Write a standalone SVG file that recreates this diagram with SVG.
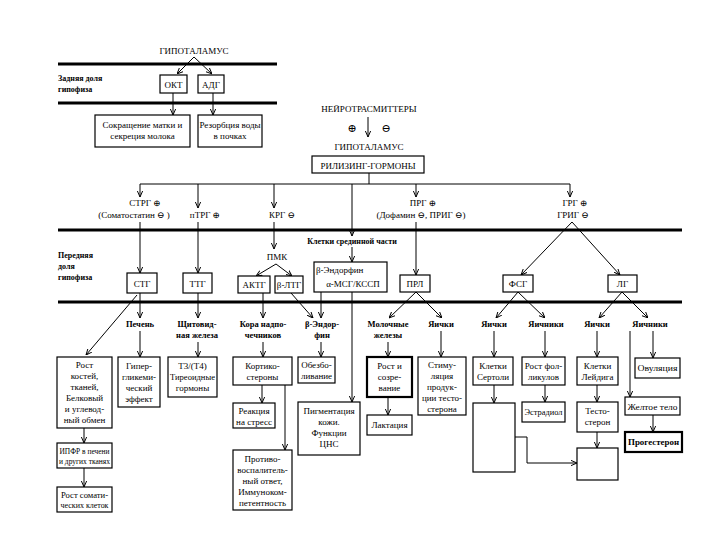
<svg xmlns="http://www.w3.org/2000/svg" width="720" height="540" viewBox="0 0 720 540">
<style>
text{font-family:"Liberation Serif","DejaVu Serif",serif;font-size:9px;fill:#000;text-anchor:middle}
.b{font-weight:bold;font-size:8.5px}
.l{text-anchor:start}
.sm{font-size:8px;font-weight:bold}
.box{fill:#fff;stroke:#000;stroke-width:1.2}
.bx2{fill:#fff;stroke:#000;stroke-width:2.2}
.sec{stroke:#000;stroke-width:3.2;fill:none}
.c{stroke:#000;stroke-width:1;fill:none}
.a{stroke:#000;stroke-width:1;fill:none;marker-end:url(#ah)}
</style>
<defs>
<marker id="ah" viewBox="0 0 8 8" refX="8" refY="4" markerWidth="6" markerHeight="6" orient="auto" markerUnits="userSpaceOnUse"><path d="M0,0.5 L8,4 L0,7.5" fill="none" stroke="#000" stroke-width="1.3"/></marker>
</defs>
<rect width="720" height="540" fill="#fff"/>

<g id="sections">
<line class="sec" x1="58" y1="64" x2="277" y2="64"/>
<line class="sec" x1="58" y1="103" x2="277" y2="103"/>
<line class="sec" x1="58" y1="230" x2="682" y2="230"/>
<line class="sec" x1="58" y1="302" x2="682" y2="302"/>
<text class="sm l" x="58" y="81">Задняя доля</text>
<text class="sm l" x="58" y="92">гипофиза</text>
<text class="sm l" x="58" y="258">Передняя</text>
<text class="sm l" x="58" y="269">доля</text>
<text class="sm l" x="58" y="280">гипофиза</text>
</g>

<g id="connectors">
<path class="a" d="M194,57 L177,74"/>
<path class="a" d="M194,57 L212,74"/>
<path class="a" d="M173,93 L173,115"/>
<path class="a" d="M213,93 L213,115"/>
<path class="a" d="M368,117 L368,137"/>
<path class="c" d="M369,173 L369,184 M140,184 L570,184"/>
<path class="a" d="M140,184 L140,197"/>
<path class="a" d="M198,184 L198,208"/>
<path class="a" d="M274,184 L274,208"/>
<path class="a" d="M416,184 L416,197"/>
<path class="a" d="M570,184 L570,197"/>
<path class="a" d="M352,184 L352,236"/>
<path class="a" d="M352,247 L352,262"/>
<path class="a" d="M140,222 L140,273"/>
<path class="a" d="M198,222 L198,273"/>
<path class="a" d="M274,222 L274,249"/>
<path class="a" d="M276,264 L256,276"/>
<path class="a" d="M276,264 L292,276"/>
<path class="a" d="M416,222 L416,275"/>
<path class="a" d="M572,222 L521,275"/>
<path class="a" d="M572,222 L620,275"/>
<path class="a" d="M140,293 L140,318"/>
<path class="a" d="M137,295 L86,355"/>
<path class="a" d="M140,331 L140,357"/>
<path class="a" d="M198,293 L198,318"/>
<path class="a" d="M198,342 L198,357"/>
<path class="a" d="M263,293 L263,318"/>
<path class="a" d="M263,342 L263,357"/>
<path class="a" d="M262,385 L262,403"/>
<path class="a" d="M285,385 L285,450"/>
<path class="a" d="M291,293 L313,318"/>
<path class="a" d="M321,277 L321,318"/>
<path class="a" d="M321,342 L321,357"/>
<path class="a" d="M352,292 L352,402"/>
<path class="a" d="M416,292 L389,318"/>
<path class="a" d="M416,292 L442,318"/>
<path class="a" d="M388,342 L388,357"/>
<path class="a" d="M388,397 L388,415"/>
<path class="a" d="M441,331 L441,357"/>
<path class="a" d="M518,292 L496,318"/>
<path class="a" d="M518,292 L545,318"/>
<path class="a" d="M494,331 L494,357"/>
<path class="a" d="M494,385 L494,403"/>
<path class="a" d="M545,331 L545,357"/>
<path class="a" d="M545,385 L545,402"/>
<path class="a" d="M622,292 L599,318"/>
<path class="a" d="M622,292 L648,318"/>
<path class="a" d="M597,331 L597,357"/>
<path class="a" d="M597,385 L597,402"/>
<path class="a" d="M597,432 L597,448"/>
<path class="a" d="M515,437 L527,437 L527,463 L577,463"/>
<path class="a" d="M653,331 L653,358"/>
<path class="a" d="M630,331 L630,397"/>
<path class="a" d="M653,415 L653,432"/>
<path class="a" d="M84,428 L84,443"/>
<path class="a" d="M84,468 L84,487"/>
</g>

<g id="hyp1"><text x="194" y="54">ГИПОТАЛАМУС</text></g>
<g id="okt"><rect class="box" x="160" y="75" width="27" height="18"/><text x="173.5" y="87.5">ОКТ</text></g>
<g id="adg"><rect class="box" x="198" y="75" width="26" height="18"/><text x="211" y="87.5">АДГ</text></g>
<g id="sokr"><rect class="box" x="95" y="115" width="95" height="32"/><text x="142.5" y="128">Сокращение матки и</text><text x="142.5" y="139">секреция молока</text></g>
<g id="rezorb"><rect class="box" x="198" y="115" width="64" height="32"/><text x="230" y="128">Резорбция воды</text><text x="230" y="139">в почках</text></g>

<g id="neuro"><text x="369" y="112">НЕЙРОТРАСМИТТЕРЫ</text><text x="352" y="132" style="font-size:11px">⊕</text><text x="386" y="132" style="font-size:11px">⊖</text></g>
<g id="hyp2"><text x="369" y="150">ГИПОТАЛАМУС</text></g>
<g id="rg"><rect class="box" x="312" y="156" width="112" height="17"/><text x="368" y="168.5">РИЛИЗИНГ-ГОРМОНЫ</text></g>

<g id="strg"><text x="145" y="206">СТРГ ⊕</text><text x="134" y="218">(Соматостатин ⊖ )</text></g>
<g id="ptrg"><text x="205" y="218">пТРГ ⊕</text></g>
<g id="krg"><text x="282" y="218">КРГ ⊖</text></g>
<g id="prg"><text x="423" y="206">ПРГ ⊕</text><text x="421" y="218">(Дофамин ⊖, ПРИГ ⊖)</text></g>
<g id="grg"><text x="575" y="206">ГРГ ⊕</text><text x="573" y="218">ГРИГ ⊖</text></g>
<g id="mid"><text class="sm" x="352" y="244">Клетки срединной части</text></g>

<g id="stg"><rect class="box" x="127" y="273" width="30" height="20"/><text x="142" y="286.5">СТГ</text></g>
<g id="ttg"><rect class="box" x="183" y="273" width="29" height="20"/><text x="197.5" y="286.5">ТТГ</text></g>
<g id="pmk"><text x="277" y="260">ПМК</text></g>
<g id="aktg"><rect class="box" x="238" y="276" width="32" height="17"/><text x="254" y="288">АКТГ</text></g>
<g id="bltg"><rect class="box" x="275" y="276" width="28" height="17"/><text x="289" y="288">β-ЛТГ</text></g>
<g id="bend"><rect class="box" x="314" y="262" width="73" height="30"/><text class="l" x="316" y="273">β-Эндорфин</text><text x="353" y="287">α-МСГ/КССП</text></g>
<g id="prl"><rect class="box" x="400" y="275" width="30" height="17"/><text x="415" y="287">ПРЛ</text></g>
<g id="fsg"><rect class="box" x="503" y="275" width="30" height="17"/><text x="518" y="287">ФСГ</text></g>
<g id="lg"><rect class="box" x="608" y="275" width="29" height="17"/><text x="622.5" y="287">ЛГ</text></g>

<g id="liver"><text class="b" x="140" y="327">Печень</text></g>
<g id="thyr"><text class="b" x="197" y="327">Щитовид-</text><text class="b" x="197" y="338">ная железа</text></g>
<g id="adren"><text class="b" x="263" y="327">Кора надпо-</text><text class="b" x="263" y="338">чечников</text></g>
<g id="bend2"><text class="b" x="322" y="327">β-Эндор-</text><text class="b" x="322" y="338">фин</text></g>
<g id="mamm"><text class="b" x="388" y="327">Молочные</text><text class="b" x="388" y="338">железы</text></g>
<g id="test1"><text class="b" x="441" y="327">Яички</text></g>
<g id="test2"><text class="b" x="494" y="327">Яички</text></g>
<g id="ovar1"><text class="b" x="546" y="327">Яичники</text></g>
<g id="test3"><text class="b" x="597" y="327">Яички</text></g>
<g id="ovar2"><text class="b" x="650" y="327">Яичники</text></g>

<g id="growth"><rect class="box" x="57" y="357" width="55" height="71"/><text x="84.5" y="368">Рост</text><text x="84.5" y="379">костей,</text><text x="84.5" y="390">тканей,</text><text x="84.5" y="401">Белковый</text><text x="84.5" y="412">и углевод-</text><text x="84.5" y="423">ный обмен</text></g>
<g id="ipfr"><rect class="box" x="57" y="443" width="55" height="25"/><text x="84.5" y="453.5" textLength="50" lengthAdjust="spacingAndGlyphs">ИПФР в печени</text><text x="84.5" y="464" textLength="51" lengthAdjust="spacingAndGlyphs">и других тканях</text></g>
<g id="soma"><rect class="box" x="57" y="487" width="55" height="25"/><text x="84.5" y="497.5" textLength="47" lengthAdjust="spacingAndGlyphs">Рост сомати-</text><text x="84.5" y="508" textLength="48" lengthAdjust="spacingAndGlyphs">ческих клеток</text></g>
<g id="hyper"><rect class="box" x="118" y="357" width="42" height="50"/><text x="139" y="369">Гипер-</text><text x="139" y="380">гликеми-</text><text x="139" y="391">ческий</text><text x="139" y="402">эффект</text></g>
<g id="t3"><rect class="box" x="168" y="357" width="49" height="40"/><text x="192.5" y="369">Т3/(Т4)</text><text x="192.5" y="380" textLength="45" lengthAdjust="spacingAndGlyphs">Тиреоидные</text><text x="192.5" y="391">гормоны</text></g>
<g id="cort"><rect class="box" x="233" y="357" width="59" height="28"/><text x="262.5" y="369">Кортико-</text><text x="262.5" y="380">стероны</text></g>
<g id="stress"><rect class="box" x="233" y="403" width="42" height="25"/><text x="254" y="414">Реакция</text><text x="254" y="425">на стресс</text></g>
<g id="antiinf"><rect class="box" x="233" y="450" width="59" height="60"/><text x="262.5" y="462">Противо-</text><text x="262.5" y="473">воспалитель-</text><text x="262.5" y="484">ный ответ,</text><text x="262.5" y="495">Иммуноком-</text><text x="262.5" y="506">петентность</text></g>
<g id="analg"><rect class="box" x="298" y="357" width="37" height="26"/><text x="316.5" y="368">Обезбо-</text><text x="316.5" y="379">ливание</text></g>
<g id="pigm"><rect class="box" x="298" y="402" width="62" height="53"/><text x="329" y="414">Пигментация</text><text x="329" y="425">кожи.</text><text x="329" y="436">Функции</text><text x="329" y="447">ЦНС</text></g>
<g id="rost"><rect class="bx2" x="367" y="357" width="45" height="40"/><text x="389.5" y="369">Рост и</text><text x="389.5" y="380">созре-</text><text x="389.5" y="391">вание</text></g>
<g id="lact"><rect class="box" x="367" y="415" width="45" height="20"/><text x="389.5" y="428">Лактация</text></g>
<g id="stim"><rect class="box" x="418" y="357" width="48" height="58"/><text x="442" y="368">Стиму-</text><text x="442" y="379">ляция</text><text x="442" y="390">продук-</text><text x="442" y="401">ции тесто-</text><text x="442" y="412">стерона</text></g>
<g id="sert"><rect class="box" x="473" y="357" width="40" height="28"/><text x="493" y="369">Клетки</text><text x="493" y="380">Сертоли</text></g>
<g id="empty1"><rect class="box" x="473" y="403" width="42" height="69"/></g>
<g id="foll"><rect class="box" x="522" y="357" width="43" height="28"/><text x="543.5" y="369">Рост фол-</text><text x="543.5" y="380">ликулов</text></g>
<g id="estr"><rect class="box" x="522" y="402" width="43" height="20"/><text x="543.5" y="415" textLength="38" lengthAdjust="spacingAndGlyphs">Эстрадиол</text></g>
<g id="leyd"><rect class="box" x="577" y="357" width="41" height="28"/><text x="597.5" y="369">Клетки</text><text x="597.5" y="380">Лейдига</text></g>
<g id="testo"><rect class="box" x="577" y="402" width="41" height="30"/><text x="597.5" y="414">Тесто-</text><text x="597.5" y="425">стерон</text></g>
<g id="empty2"><rect class="box" x="577" y="448" width="41" height="32"/></g>
<g id="ovul"><rect class="box" x="635" y="358" width="45" height="20"/><text x="657.5" y="371" textLength="40" lengthAdjust="spacingAndGlyphs">Овуляция</text></g>
<g id="corpus"><rect class="box" x="625" y="397" width="55" height="18"/><text x="652.5" y="409.5" textLength="50" lengthAdjust="spacingAndGlyphs">Желтое тело</text></g>
<g id="prog"><rect class="bx2" x="625" y="432" width="57" height="20"/><text class="b" x="653.5" y="445" textLength="51" lengthAdjust="spacingAndGlyphs">Прогестерон</text></g>
</svg>
